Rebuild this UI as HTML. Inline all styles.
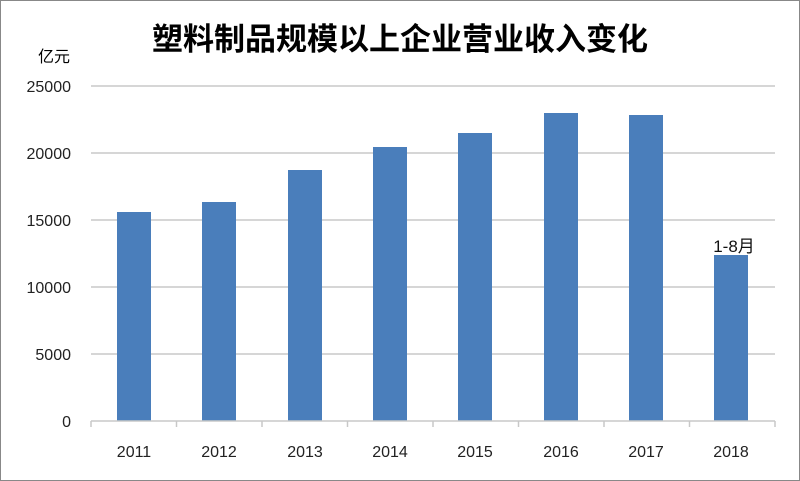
<!DOCTYPE html>
<html><head><meta charset="utf-8"><style>
body{margin:0;background:#fff}
svg{display:block}
text{font-family:"Liberation Sans","Noto Sans CJK SC",sans-serif}
</style></head><body>
<svg width="800" height="481" viewBox="0 0 800 481">
<rect x="0.5" y="0.5" width="799" height="480" fill="#fff" stroke="#888"/>
<text x="400" y="50" font-size="31" font-weight="bold" text-anchor="middle" font-family="'Noto Sans CJK SC',sans-serif">塑料制品规模以上企业营业收入变化</text>
<text x="70" y="62" font-size="16" text-anchor="end">亿元</text>
<g stroke="#c8c8c8" stroke-width="1.5">
<line x1="91" y1="86" x2="775" y2="86"/>
<line x1="91" y1="153" x2="775" y2="153"/>
<line x1="91" y1="220" x2="775" y2="220"/>
<line x1="91" y1="287" x2="775" y2="287"/>
<line x1="91" y1="354" x2="775" y2="354"/>
</g>
<g font-size="16" text-anchor="end" fill="#222">
<text x="71" y="92">25000</text>
<text x="71" y="159">20000</text>
<text x="71" y="226">15000</text>
<text x="71" y="293">10000</text>
<text x="71" y="360">5000</text>
<text x="71" y="427">0</text>
</g>
<g fill="#4a7ebb">
<rect x="117" y="212" width="34" height="209"/>
<rect x="202" y="202" width="34" height="219"/>
<rect x="288" y="170" width="34" height="251"/>
<rect x="373" y="147" width="34" height="274"/>
<rect x="458" y="133" width="34" height="288"/>
<rect x="544" y="113" width="34" height="308"/>
<rect x="629" y="115" width="34" height="306"/>
<rect x="714" y="255" width="34" height="166"/>
</g>
<g stroke="#c8c8c8" stroke-width="1.5">
<line x1="91" y1="421" x2="775" y2="421"/>
<line x1="91" y1="421" x2="91" y2="427"/>
<line x1="176.5" y1="421" x2="176.5" y2="427"/>
<line x1="262" y1="421" x2="262" y2="427"/>
<line x1="347.5" y1="421" x2="347.5" y2="427"/>
<line x1="433" y1="421" x2="433" y2="427"/>
<line x1="518.5" y1="421" x2="518.5" y2="427"/>
<line x1="604" y1="421" x2="604" y2="427"/>
<line x1="689.5" y1="421" x2="689.5" y2="427"/>
<line x1="775" y1="421" x2="775" y2="427"/>
</g>
<g font-size="16" text-anchor="middle" fill="#222">
<text x="134" y="457">2011</text>
<text x="219" y="457">2012</text>
<text x="305" y="457">2013</text>
<text x="390" y="457">2014</text>
<text x="475" y="457">2015</text>
<text x="561" y="457">2016</text>
<text x="646" y="457">2017</text>
<text x="731" y="457">2018</text>
</g>
<text x="734" y="252" font-size="17" text-anchor="middle" fill="#111">1-8月</text>
</svg>
</body></html>
